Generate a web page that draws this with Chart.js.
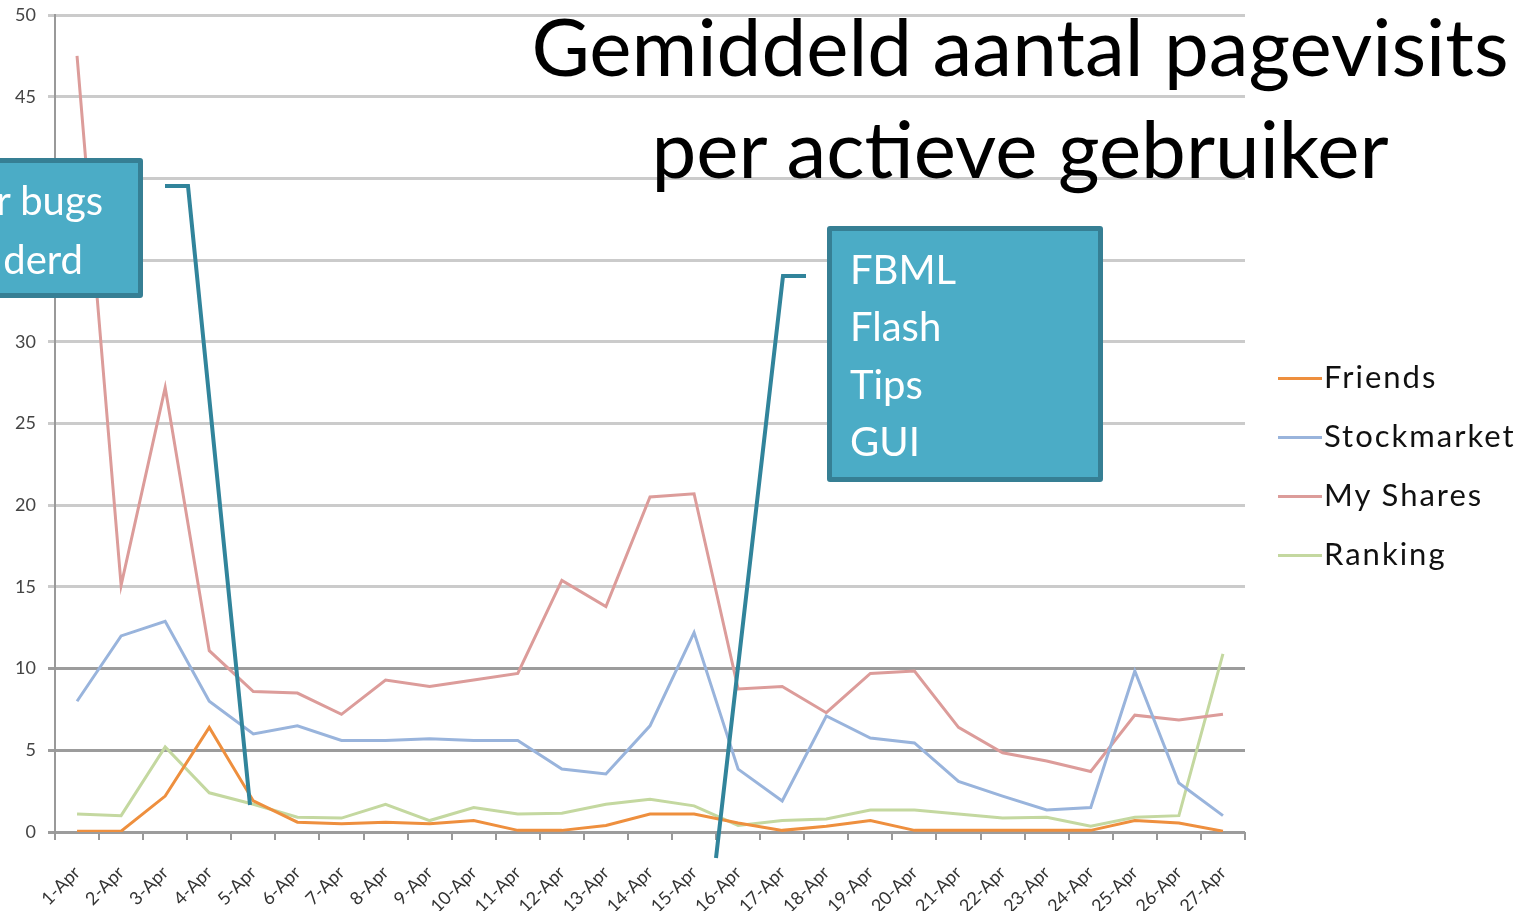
<!DOCTYPE html>
<html>
<head>
<meta charset="utf-8">
<script src="https://cdn.jsdelivr.net/npm/chart.js@4"></script>
<style>
  body { margin: 0; width: 1525px; height: 911px; overflow: hidden; background: #fff; position: relative; font-family: Lato, "Open Sans", sans-serif; }
  #chart { position: absolute; left: 0; top: 0; }
  #title { position: absolute; left: 520px; width: 1000px; top: -6px; text-align: center; font-size: 80px; line-height: 102px; color: #000; }
  .box { position: absolute; background: #4bacc6; border: 5px solid #367f94; border-radius: 3px; box-sizing: border-box; color: #fff; font-size: 40px; }
  .box span { position: absolute; white-space: nowrap; line-height: 1; }
  #legend { position: absolute; left: 1278px; top: 356px; }
  #legend div { position: relative; height: 59px; font-size: 31px; letter-spacing: 2px; color: #111; }
  #legend i { position: absolute; left: 0; top: 21px; width: 44px; height: 3px; }
  #legend b { position: absolute; left: 46px; top: 1px; font-weight: normal; white-space: nowrap; }
  svg { position: absolute; left: 0; top: 0; }
</style>
</head>
<body>
<canvas id="chart" width="1525" height="911"></canvas>
<div id="title">Gemiddeld aantal pagevisits<br>per actieve gebruiker</div>
<svg width="1525" height="911">
  <polyline points="165,186 188,186 250,805" fill="none" stroke="#31849b" stroke-width="4"/>
  <polyline points="806,276 783,276 716,858" fill="none" stroke="#31849b" stroke-width="4"/>
</svg>
<div class="box" style="left:-30px; top:158px; width:173px; height:140px;">
  <span style="right:35px; top:17px;">r bugs</span>
  <span style="right:55px; top:76px;">derd</span>
</div>
<div class="box" style="left:827px; top:226px; width:276px; height:256px;">
  <span style="left:18px; top:18px;">FBML</span>
  <span style="left:18px; top:75px;">Flash</span>
  <span style="left:18px; top:133px;">Tips</span>
  <span style="left:18px; top:190px;">GUI</span>
</div>
<div id="legend"></div>
<script>
const labels = ['1-Apr','2-Apr','3-Apr','4-Apr','5-Apr','6-Apr','7-Apr','8-Apr','9-Apr','10-Apr','11-Apr','12-Apr','13-Apr','14-Apr','15-Apr','16-Apr','17-Apr','18-Apr','19-Apr','20-Apr','21-Apr','22-Apr','23-Apr','24-Apr','25-Apr','26-Apr','27-Apr'];
const friends = [0.05, 0.05, 2.2, 6.4, 1.9, 0.6, 0.5, 0.6, 0.5, 0.7, 0.1, 0.1, 0.4, 1.1, 1.1, 0.55, 0.1, 0.35, 0.7, 0.1, 0.1, 0.1, 0.1, 0.1, 0.7, 0.55, 0.05];
const stockmarket = [8.0, 12.0, 12.9, 8.0, 6.0, 6.5, 5.6, 5.6, 5.7, 5.6, 5.6, 3.85, 3.55, 6.5, 12.2, 3.85, 1.9, 7.1, 5.75, 5.45, 3.1, 2.2, 1.35, 1.5, 9.85, 3.0, 1.0];
const myShares = [47.5, 15.1, 27.2, 11.1, 8.6, 8.5, 7.2, 9.3, 8.9, 9.3, 9.7, 15.4, 13.8, 20.5, 20.7, 8.75, 8.9, 7.3, 9.7, 9.85, 6.4, 4.85, 4.35, 3.7, 7.15, 6.85, 7.2];
const ranking = [1.1, 1.0, 5.2, 2.4, 1.7, 0.9, 0.85, 1.7, 0.7, 1.5, 1.1, 1.15, 1.7, 2.0, 1.6, 0.4, 0.7, 0.8, 1.35, 1.35, 1.1, 0.85, 0.9, 0.35, 0.9, 1.0, 10.9];
const yTicks = [0, 5, 10, 15, 20, 25, 30, 35, 40, 45, 50];

const series = [
  { label: 'Friends', data: friends, color: '#ee8f3e' },
  { label: 'Stockmarket', data: stockmarket, color: '#99b4dc' },
  { label: 'My Shares', data: myShares, color: '#dc9c9a' },
  { label: 'Ranking', data: ranking, color: '#c4d8a0' },
];

Chart.defaults.font.family = 'Lato, "Open Sans", sans-serif';

var ctx = document.getElementById('chart').getContext('2d');
var myChart = new Chart(ctx, {
  type: 'line',
  data: {
    labels: labels,
    datasets: series.map(s => ({
      label: s.label,
      data: s.data,
      borderColor: s.color,
      backgroundColor: s.color,
      borderWidth: 3,
      pointRadius: 0,
      tension: 0,
    })),
  },
  options: {
    responsive: false,
    animation: false,
    layout: { padding: { top: 15, right: 280, left: 0, bottom: 0 } },
    plugins: { legend: { display: false }, tooltip: { enabled: false } },
    scales: {
      x: {
        offset: true,
        grid: { offset: true, drawOnChartArea: false, drawTicks: true, tickLength: 8, color: '#999', lineWidth: 2 },
        border: { display: false },
        ticks: { minRotation: 45, maxRotation: 45, padding: 22, color: '#333', font: { size: 18 }, autoSkip: false },
        afterFit: function (scale) { scale.height = 79; scale.paddingLeft = 0; scale.paddingRight = 0; },
      },
      y: {
        min: 0,
        max: 50,
        afterBuildTicks: function (scale) { scale.ticks = yTicks.map(v => ({ value: v })); },
        grid: {
          lineWidth: 3,
          tickLength: 7,
          color: c => (c.tick && c.tick.value <= 10 ? '#9c9c9c' : '#cbcbcb'),
        },
        border: { display: true, color: '#999', width: 2 },
        ticks: { padding: 12, color: '#444', font: { size: 18 } },
        afterFit: function (scale) { scale.width = 55; scale.paddingTop = 0; scale.paddingBottom = 0; },
      },
    },
  },
});

// legend
var legend = document.getElementById('legend');
series.forEach(function (s) {
  var row = document.createElement('div');
  row.innerHTML = '<i style="background:' + s.color + '"></i><b>' + s.label + '</b>';
  legend.appendChild(row);
});
</script>
</body>
</html>
